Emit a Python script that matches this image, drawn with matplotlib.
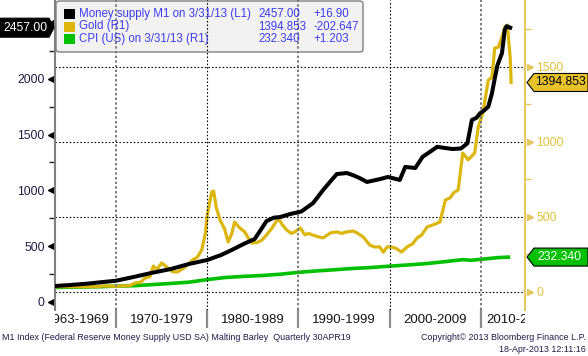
import matplotlib
matplotlib.use("Agg")
import numpy as np
import matplotlib.pyplot as plt
from matplotlib.patches import Polygon, FancyBboxPatch, Rectangle

# --- data (year, value) ---
m1_years = [1963.3, 1965.0, 1967.0, 1968.5, 1970.0, 1972.0, 1974.0, 1976.0, 1978.0,
            1980.0, 1981.5, 1982.7, 1984.0, 1985.2, 1985.9, 1986.5, 1987.3, 1988.0,
            1989.1, 1990.3, 1991.6, 1992.7, 1993.5, 1994.2, 1995.3, 1996.0, 1996.7,
            1997.5, 1998.9, 1999.8, 2001.1, 2001.7, 2002.8, 2003.6, 2004.5, 2005.2,
            2006.0, 2006.9, 2007.8, 2008.5, 2009.0, 2009.5, 2009.9, 2010.4, 2010.8,
            2011.2, 2011.5, 2011.8, 2012.3, 2012.6, 2012.8, 2013.2]
m1_vals = [143, 152, 165, 178, 190, 225, 262, 295, 340,
           376, 420, 466, 520, 564, 650, 725, 755, 761,
           788, 810, 886, 1003, 1080, 1146, 1155, 1135, 1110,
           1075, 1100, 1120, 1093, 1210, 1200, 1300, 1350, 1390,
           1380, 1370, 1375, 1420, 1630, 1650, 1690, 1720, 1750,
           1870, 2000, 2120, 2230, 2436, 2470, 2457]

gold_years = [1963.3, 1968.0, 1968.5, 1970.0, 1970.6, 1971.5, 1972.1, 1972.7, 1973.2,
              1973.7, 1974.1, 1974.5, 1975.0, 1975.7, 1976.2, 1976.7, 1977.2, 1977.6,
              1978.4, 1978.9, 1979.4, 1979.8, 1980.0, 1980.5, 1980.7, 1981.0, 1981.4,
              1981.9, 1982.3, 1982.7, 1983.0, 1983.5, 1984.1, 1984.5, 1984.9, 1985.5,
              1986.0, 1986.5, 1987.1, 1987.8, 1988.2, 1988.7, 1989.2, 1989.6, 1990.2,
              1990.7, 1991.1, 1991.5, 1992.0, 1992.7, 1993.5, 1994.2, 1994.7, 1995.3,
              1996.0, 1996.5, 1997.1, 1997.8, 1998.3, 1998.9, 1999.3, 1999.7, 2000.1,
              2000.6, 2001.3, 2001.9, 2002.5, 2003.0, 2003.5, 2004.1, 2004.7, 2005.5,
              2006.1, 2006.6, 2007.0, 2007.5, 2008.0, 2008.6, 2009.3, 2009.7, 2010.2,
              2010.8, 2011.2, 2011.5, 2011.9, 2012.3, 2012.6, 2012.9, 2013.05, 2013.2,
              2013.3]
gold_vals = [35, 35, 40, 38, 40, 42, 60, 65, 93,
             100, 173, 150, 193, 160, 135, 133, 150, 167,
             213, 230, 280, 390, 513, 666, 672, 560, 480,
             420, 333, 390, 466, 430, 400, 360, 326, 330,
             346, 380, 426, 490, 450, 413, 390, 400, 426,
             380, 390, 380, 370, 360, 393, 400, 390, 400,
             406, 390, 366, 313, 300, 300, 265, 300, 300,
             293, 266, 300, 320, 360, 380, 433, 446, 466,
             613, 626, 660, 680, 925, 880, 925, 1100, 1190,
             1411, 1430, 1624, 1630, 1697, 1764, 1777, 1660, 1560,
             1394.853]

cpi_years = [1963.3, 1966, 1968, 1970, 1972, 1974, 1976, 1978, 1980, 1982, 1984,
             1986, 1988, 1990, 1992, 1994, 1996, 1998, 2000, 2002, 2004, 2006,
             2008, 2008.9, 2010, 2012, 2013.2]
cpi_vals = [30.5, 32.5, 34.8, 38.8, 41.8, 49.3, 56.9, 65.2, 82.4, 96.5, 103.9,
            109.6, 118.3, 130.7, 140.3, 148.2, 156.9, 163.0, 172.2, 179.9, 188.9, 201.6,
            215.3, 211.0, 217.5, 229.6, 232.34]

left_ticks = [0, 500, 1000, 1500, 2000, 2500]
right_ticks = [0, 500, 1000, 1500]
decades = [1970, 1980, 1990, 2000, 2010]
period_labels = ["1963-1969", "1970-1979", "1980-1989", "1990-1999", "2000-2009", "2010-2013"]
period_centers = [1965.8, 1975, 1985, 1995, 2005, 2014.1]

legend_names = ["Money supply M1 on 3/31/13 (L1)", "Gold (R1)", "CPI (US) on 3/31/13 (R1)"]
legend_last = ["2457.00", "1394.853", "232.340"]
legend_chg = ["+16.90", "-202.647", "+1.203"]

BLACK = "#000000"
GOLD = "#dcb60c"
GREEN = "#00c000"
GOLD_TXT = "#e2c23a"
NAVY = "#1c1c48"
BLUE = "#3c3cf0"

plt.rcParams['font.family'] = ['Liberation Sans', 'DejaVu Sans']

W, H = 588, 356
L, R, B, T = 55, 525, 310, 0
fig = plt.figure(figsize=(W / 100, H / 100), dpi=100)
rect = [L / W, (H - B) / H, (R - L) / W, (B - T) / H]
ax = fig.add_axes(rect)
ax2 = ax.twinx()
ax.set_zorder(2)
ax.patch.set_visible(False)
ax2.patch.set_visible(True)
ax2.patch.set_facecolor("white")

xlim = (1963.32, 2014.82)
ax.set_xlim(xlim)
ax.set_ylim(-72, 2705)
ax2.set_ylim(-120, 1944)

ax2.plot(cpi_years, cpi_vals, color=GREEN, lw=2.6, zorder=3, solid_capstyle='butt')
ax2.plot(gold_years, gold_vals, color=GOLD, lw=2.3, zorder=4, solid_joinstyle='round')
ax.plot(m1_years, m1_vals, color=BLACK, lw=2.9, zorder=5, solid_joinstyle='round')

# horizontal grid from the right axis
for v in right_ticks:
    ax2.axhline(v, color="black", lw=0.8, ls=(0, (1.4, 1.8)), zorder=1)

# vertical grid at decades
for i, d in enumerate(decades):
    if i % 2 == 0:
        ax.axvline(d, color="#7a7a7a", lw=1.4, ls=(0, (1.2, 1.2)), zorder=1.5)
    else:
        ax.axvline(d, color="black", lw=0.8, ls=(0, (1.4, 1.8)), zorder=1.5)

# spines
for s in ["top", "bottom", "right"]:
    ax.spines[s].set_visible(False)
ax.spines["left"].set_color("#808080")
ax.spines["left"].set_linewidth(1.5)
for s in ["top", "bottom", "left"]:
    ax2.spines[s].set_visible(False)
ax2.spines["right"].set_color("#e6c860")
ax2.spines["right"].set_linewidth(1.5)

ax.set_xticks([])
ax.set_yticks(left_ticks)
# the 2500 label sits under the value tag in the original
ax.set_yticklabels([str(v) if v < 2500 else "" for v in left_ticks])
ax.set_yticks([250, 750, 1250, 1750, 2250], minor=True)
ax.tick_params(axis="y", which="major", length=0, pad=7.5, labelsize=8.7, labelcolor=NAVY)
ax.tick_params(axis="y", which="minor", length=4, width=1, color="#202020")
ax.plot(np.full(len(left_ticks), -4.5 / (R - L)), left_ticks, ls="none", marker="<", ms=5,
        color="black", transform=ax.get_yaxis_transform(), clip_on=False)

ax2.set_yticks(right_ticks)
ax2.set_yticklabels([str(v) for v in right_ticks])
ax2.set_yticks([250, 750, 1250, 1750], minor=True)
ax2.tick_params(axis="y", which="major", length=0, pad=8, labelsize=8.7, labelcolor=GOLD_TXT)
ax2.tick_params(axis="y", which="minor", length=4, width=1, color="#e6c860")
ax2.plot(np.full(len(right_ticks), 1 + 4.5 / (R - L)), right_ticks, ls="none", marker=">", ms=5,
         color="#e6c860", transform=ax2.get_yaxis_transform(), clip_on=False)

# period label bar
ax3 = fig.add_axes([L / W, (H - 328) / H, (R - L) / W, 19 / H])
ax3.set_xlim(xlim)
ax3.set_ylim(0, 1)
ax3.axis("off")
for d in decades:
    ax3.axvline(d, color="#8c8c8c", lw=1.6)
for lab, c in zip(period_labels, period_centers):
    ax3.text(c, 0.42, lab, ha="center", va="center", fontsize=9.5, color="#141414", clip_on=True)


# legend box drawn inside the top axes (pixel helper)
def axp(x, y):
    return ((x - L) / (R - L), (B - y) / (B - T))


x0, y0 = axp(56, 52)
x1, y1 = axp(363, 1)
box = FancyBboxPatch((x0, y0), x1 - x0, y1 - y0, boxstyle="round,pad=0,rounding_size=0.008",
                     transform=ax.transAxes, facecolor="#f2f2f2", edgecolor="#808080",
                     lw=1.0, zorder=1, clip_on=False)
ax.add_patch(box)
rows = [14, 26.5, 39]
cols = [BLACK, GOLD, GREEN]
for yy, col, name, last, chg in zip(rows, cols, legend_names, legend_last, legend_chg):
    sx, sy = axp(64, yy + 5)
    sx2, sy2 = axp(75, yy - 5)
    ax.add_patch(Rectangle((sx, sy), sx2 - sx, sy2 - sy, transform=ax.transAxes,
                           facecolor=col, edgecolor="none", zorder=4))
    for xx, txt in [(79, name), (258, last), (313, chg)]:
        tx, ty = axp(xx, yy)
        ax.text(tx, ty, txt, transform=ax.transAxes, fontsize=8.3, color=BLUE,
                ha="left", va="center", zorder=4)


# value tags on the axes
def ypix(axis, val):
    return H - axis.transData.transform((xlim[0], val))[1]


def fig_poly(pts, fc):
    p = Polygon([(x / W, 1 - y / H) for x, y in pts], closed=True, transform=fig.transFigure,
                facecolor=fc, edgecolor="black", lw=0.8, zorder=10)
    fig.add_artist(p)


yc = ypix(ax, 2457.0)
fig_poly([(0, yc - 9.5), (49, yc - 9.5), (54, yc), (49, yc + 9.5), (0, yc + 9.5)], "black")
fig.text(25 / W, 1 - yc / H, "2457.00", color="white", fontsize=8.8, ha="center", va="center", zorder=11)

yc = ypix(ax2, 1394.853)
fig_poly([(527, yc), (534, yc - 9), (588, yc - 9), (588, yc + 9), (534, yc + 9)], "#e8c22a")
fig.text(535 / W, 1 - yc / H, "1394.853", color="black", fontsize=8.8, ha="left", va="center", zorder=11)

yc = ypix(ax2, 232.34)
fig_poly([(527, yc), (534, yc - 9), (588, yc - 9), (588, yc + 9), (534, yc + 9)], GREEN)
fig.text(537 / W, 1 - yc / H, "232.340", color="white", fontsize=8.8, ha="left", va="center", zorder=11)

# footer
fig.text(2 / W, 1 - 337 / H, "M1 Index (Federal Reserve Money Supply USD SA) Malting Barley  Quarterly 30APR19",
         fontsize=6.4, color=NAVY, ha="left", va="center")
fig.text(586 / W, 1 - 337 / H, "Copyright\u00a9 2013 Bloomberg Finance L.P.",
         fontsize=6.4, color=NAVY, ha="right", va="center")
fig.text(586 / W, 1 - 349 / H, "18-Apr-2013 12:11:16",
         fontsize=6.4, color=NAVY, ha="right", va="center")

fig.savefig("out.png", dpi=100, facecolor="white")
